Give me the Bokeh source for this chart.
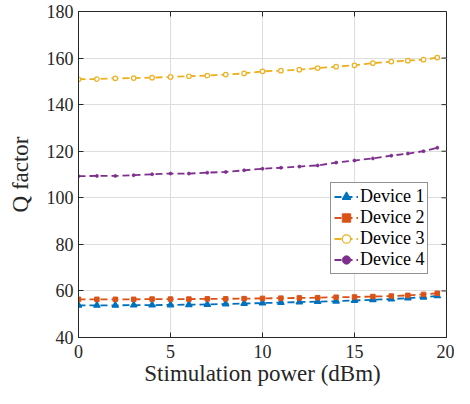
from bokeh.plotting import figure
from bokeh.models import FixedTicker, Legend, LegendItem, Range1d
from bokeh.embed import file_html
from bokeh.resources import INLINE

power = [0, 1, 2, 3, 4, 5, 6, 7, 8, 9, 10, 11, 12, 13, 14, 15, 16, 17, 17.9, 18.75, 19.5]
device1 = [53.8, 53.8, 53.8, 53.9, 53.9, 54.0, 54.1, 54.2, 54.4, 54.6, 54.8,
           55.0, 55.2, 55.4, 55.6, 55.9, 56.2, 56.5, 56.9, 57.3, 57.9]
device2 = [56.4, 56.4, 56.4, 56.4, 56.5, 56.5, 56.5, 56.6, 56.6, 56.7, 56.8,
           56.9, 57.0, 57.1, 57.3, 57.4, 57.6, 57.8, 58.1, 58.5, 59.0]
device3 = [150.9, 151.0, 151.3, 151.4, 151.6, 151.9, 152.2, 152.5, 152.9, 153.4, 154.3,
           154.6, 155.0, 155.7, 156.3, 156.9, 157.8, 158.5, 158.9, 159.3, 160.2]
device4 = [109.3, 109.4, 109.4, 109.7, 110.1, 110.4, 110.4, 110.8, 111.1, 111.8, 112.5,
           112.9, 113.4, 113.9, 115.1, 116.0, 116.9, 118.1, 119.0, 120.0, 121.5]
names = ["Device 1", "Device 2", "Device 3", "Device 4"]
x_ticks = [0, 5, 10, 15, 20]
y_ticks = [40, 60, 80, 100, 120, 140, 160, 180]

FONT = "Liberation Serif"
AX = "#262626"
colors = ["#0072BD", "#D95319", "#EDB120", "#7E2F8E"]
X0, X1, Y0, Y1 = 0, 20, 40, 180

W, H = 454, 388
BL, BR, BT, BB = 78, 8, 11, 51

p = figure(width=W, height=H, output_backend="svg", toolbar_location=None,
           x_range=Range1d(X0, X1), y_range=Range1d(Y0, Y1),
           min_border_left=BL, min_border_right=BR, min_border_top=BT, min_border_bottom=BB)
p.background_fill_color = "white"
p.border_fill_color = "white"
p.outline_line_color = AX
p.outline_line_width = 1

for ax in (p.xaxis[0], p.yaxis[0]):
    ax.major_label_text_font = FONT
    ax.major_label_text_font_size = "18px"
    ax.major_label_text_color = AX
    ax.axis_label_text_font = FONT
    ax.axis_label_text_font_size = "23px"
    ax.axis_label_text_font_style = "normal"
    ax.axis_label_text_color = AX
    ax.axis_line_color = AX
    ax.major_tick_line_color = AX
    ax.major_tick_in = 5
    ax.major_tick_out = 0
    ax.minor_tick_line_color = None
p.xaxis[0].ticker = FixedTicker(ticks=x_ticks)
p.yaxis[0].ticker = FixedTicker(ticks=y_ticks)
p.xaxis[0].axis_label = "Stimulation power (dBm)"
p.yaxis[0].axis_label = "Q factor"
p.xaxis[0].major_label_standoff = 7
p.yaxis[0].major_label_standoff = 5
p.xaxis[0].axis_label_standoff = 0
p.yaxis[0].axis_label_standoff = 11

# inward ticks on the top and right edges (box on), 5 px long
fw = W - BL - BR
fh = H - BT - BB
dx = 5 * (X1 - X0) / fw
dy = 5 * (Y1 - Y0) / fh
p.segment(x0=[X1] * len(y_ticks), y0=y_ticks, x1=[X1 - dx] * len(y_ticks), y1=y_ticks,
          line_color=AX, line_width=1)
p.segment(x0=x_ticks, y0=[Y1] * len(x_ticks), x1=x_ticks, y1=[Y1 - dy] * len(x_ticks),
          line_color=AX, line_width=1)

p.xgrid.ticker = FixedTicker(ticks=x_ticks)
p.ygrid.ticker = FixedTicker(ticks=y_ticks)
p.grid.grid_line_color = "#dedede"
p.grid.grid_line_width = 1

series = [device1, device2, device3, device4]
markers = ["triangle", "square", "circle", "circle"]
sizes = [6.5, 4.5, 4.5, 3]
widths = [1.2, 1.0, 1.2, 0.8]
fills = [colors[0], colors[1], "white", colors[3]]
items = []
for i, ys in enumerate(series):
    ln = p.line(power, ys, line_color=colors[i], line_width=1.8, line_dash="7 4")
    sc = p.scatter(power, ys, marker=markers[i], size=sizes[i], line_color=colors[i],
                   fill_color=fills[i], line_width=widths[i])
    items.append(LegendItem(label=names[i], renderers=[ln, sc]))

legend = Legend(items=items, location=(252, 63))
legend.label_text_font = FONT
legend.label_text_font_size = "18px"
legend.label_text_color = "black"
legend.border_line_color = AX
legend.border_line_width = 1
legend.background_fill_alpha = 1
legend.padding = 3
legend.spacing = 0
legend.margin = 0
legend.glyph_width = 24
legend.glyph_height = 21
legend.label_height = 21
legend.label_standoff = 2
p.add_layout(legend)

open("out.html", "w").write(file_html(p, INLINE))
